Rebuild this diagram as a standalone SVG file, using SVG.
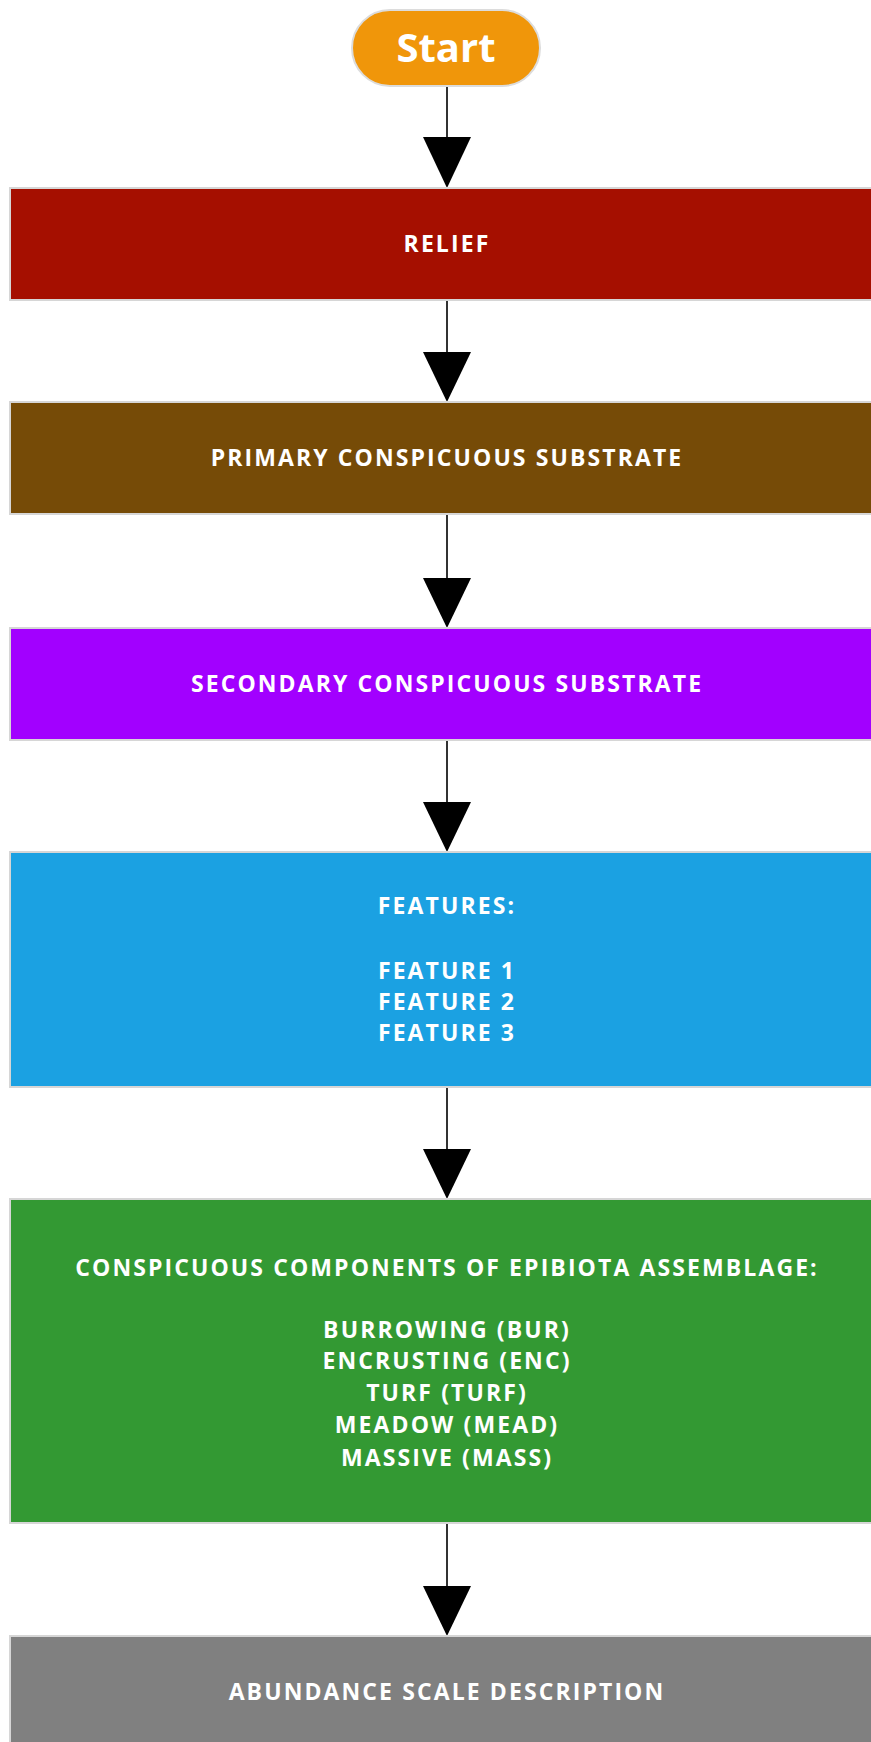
<svg xmlns="http://www.w3.org/2000/svg" width="871" height="1742" viewBox="0 0 871 1742">
<style>
.box{stroke:#d6d6d6;stroke-width:2}
.t{font-family:"Open Sans","Liberation Sans",sans-serif;font-weight:bold;font-size:23px;fill:#ffffff;text-anchor:middle;letter-spacing:2.1px}
.st{font-family:"Open Sans","Liberation Sans",sans-serif;font-weight:bold;font-size:40px;fill:#ffffff;text-anchor:middle}
.ln{stroke:#333;stroke-width:2;fill:none}
.ah{fill:#000}
</style>
<rect width="871" height="1742" fill="#ffffff"/>
<g id="connectors">
<line class="ln" x1="447" y1="87" x2="447" y2="139"/>
<polygon class="ah" points="423,137 471,137 447,188"/>
<line class="ln" x1="447" y1="300" x2="447" y2="354"/>
<polygon class="ah" points="423,352 471,352 447,402"/>
<line class="ln" x1="447" y1="514" x2="447" y2="580"/>
<polygon class="ah" points="423,578 471,578 447,628"/>
<line class="ln" x1="447" y1="740" x2="447" y2="804"/>
<polygon class="ah" points="423,802 471,802 447,852"/>
<line class="ln" x1="447" y1="1087" x2="447" y2="1151"/>
<polygon class="ah" points="423,1149 471,1149 447,1199"/>
<line class="ln" x1="447" y1="1523" x2="447" y2="1588"/>
<polygon class="ah" points="423,1586 471,1586 447,1636"/>
</g>
<g id="start">
<rect x="352" y="10" width="188" height="76" rx="38" fill="#f0960a" stroke="#dcdcdc" stroke-width="2"/>
<text class="st" x="446" y="62">Start</text>
</g>
<g id="relief">
<rect class="box" x="10" y="188" width="880" height="112" fill="#a50f00"/>
<text class="t" x="447" y="252">RELIEF</text>
</g>
<g id="primary">
<rect class="box" x="10" y="402" width="880" height="112" fill="#764b07"/>
<text class="t" x="447" y="466">PRIMARY CONSPICUOUS SUBSTRATE</text>
</g>
<g id="secondary">
<rect class="box" x="10" y="628" width="880" height="112" fill="#a200ff"/>
<text class="t" x="447" y="692">SECONDARY CONSPICUOUS SUBSTRATE</text>
</g>
<g id="features">
<rect class="box" x="10" y="852" width="880" height="235" fill="#1ba1e2"/>
<text class="t" x="447" y="914">FEATURES:</text>
<text class="t" x="447" y="979">FEATURE 1</text>
<text class="t" x="447" y="1010">FEATURE 2</text>
<text class="t" x="447" y="1041">FEATURE 3</text>
</g>
<g id="epibiota">
<rect class="box" x="10" y="1199" width="880" height="324" fill="#339933"/>
<text class="t" x="447" y="1276">CONSPICUOUS COMPONENTS OF EPIBIOTA ASSEMBLAGE:</text>
<text class="t" x="447" y="1338">BURROWING (BUR)</text>
<text class="t" x="447" y="1369">ENCRUSTING (ENC)</text>
<text class="t" x="447" y="1401">TURF (TURF)</text>
<text class="t" x="447" y="1433">MEADOW (MEAD)</text>
<text class="t" x="447" y="1466">MASSIVE (MASS)</text>
</g>
<g id="abundance">
<rect class="box" x="10" y="1636" width="880" height="120" fill="#808080"/>
<text class="t" x="447" y="1700">ABUNDANCE SCALE DESCRIPTION</text>
</g>
</svg>
